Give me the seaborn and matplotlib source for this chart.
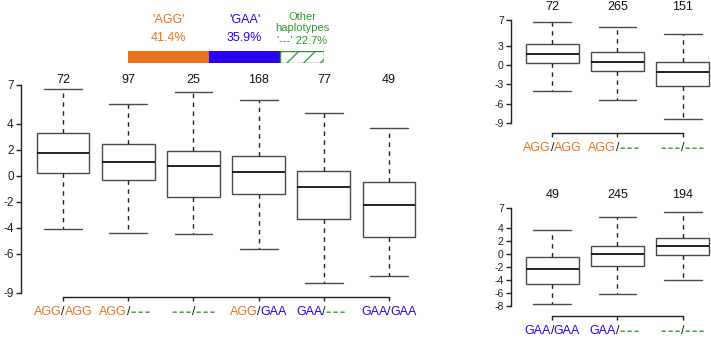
import numpy as np
import pandas as pd
import matplotlib
matplotlib.use('Agg')
import matplotlib.pyplot as plt
import matplotlib.transforms as mtransforms
import seaborn as sns

sns.set_theme(style="ticks")
plt.rcParams['font.family'] = ['Liberation Sans', 'DejaVu Sans']
plt.rcParams['hatch.linewidth'] = 0.9

ORANGE = '#E8731F'
BLUE = '#2B00F7'
GREEN = '#2F962F'
DASH_GREEN = '#42A842'
TOKEN_COLORS = {'AGG': ORANGE, 'GAA': BLUE, '---': DASH_GREEN}
DASHES = '-\u200a-\u200a-'   # the "other haplotype" symbol, a bit airier

# haplotype frequencies (top bar)
hap_labels = ["'AGG'", "'GAA'"]
hap_freq = [41.4, 35.9, 22.7]

# five-number summaries: min, q1, median, q3, max
main_groups = ['AGG/AGG', 'AGG/---', '---/---', 'AGG/GAA', 'GAA/---', 'GAA/GAA']
main_counts = [72, 97, 25, 168, 77, 49]
main_stats = [
    [-4.08, 0.21, 1.72, 3.31, 6.67],
    [-4.41, -0.33, 1.03, 2.41, 5.54],
    [-4.48, -1.62, 0.75, 1.87, 6.41],
    [-5.66, -1.41, 0.31, 1.54, 5.82],
    [-8.28, -3.35, -0.85, 0.34, 4.82],
    [-7.72, -4.69, -2.28, -0.46, 3.67],
]
main_yticks = [7, 4, 2, 0, -2, -4, -6, -9]

agg_groups = ['AGG/AGG', 'AGG/---', '---/---']
agg_counts = [72, 265, 151]
agg_stats = [
    [-4.04, 0.26, 1.76, 3.31, 6.72],
    [-5.43, -0.98, 0.52, 1.97, 5.90],
    [-8.34, -3.31, -1.13, 0.47, 4.86],
]
agg_yticks = [7, 3, 0, -3, -6, -9]

gaa_groups = ['GAA/GAA', 'GAA/---', '---/---']
gaa_counts = [49, 245, 194]
gaa_stats = [
    [-7.74, -4.70, -2.30, -0.46, 3.65],
    [-6.25, -1.85, 0.00, 1.13, 5.60],
    [-4.05, -0.25, 1.13, 2.47, 6.42],
]
gaa_yticks = [7, 4, 2, 0, -2, -4, -6, -8]


def to_long(groups, stats):
    rows = []
    for g, s in zip(groups, stats):
        for v in s:
            rows.append({'group': g, 'value': v})
    return pd.DataFrame(rows)


def draw_panel(ax, groups, counts, stats, yticks, ylim, xlim, count_y, tick_fs):
    df = to_long(groups, stats)
    sns.boxplot(data=df, x='group', y='value', order=groups, ax=ax,
                whis=(0, 100), width=0.81, color='white', linecolor='#4a4a4a',
                linewidth=1.0,
                whiskerprops={'linestyle': (0, (3.2, 3.2)), 'color': '#222222'},
                medianprops={'color': '#111111', 'linewidth': 1.3})
    # widen the whisker caps a little, like in the original
    for line in ax.lines:
        xd = np.asarray(line.get_xdata(), dtype=float)
        yd = np.asarray(line.get_ydata(), dtype=float)
        if len(xd) == 2 and yd[0] == yd[1] and 0 < abs(xd[1] - xd[0]) < 0.6:
            c = xd.mean()
            line.set_xdata([c - 0.29, c + 0.29])
    ax.set_xlim(*xlim)
    ax.set_ylim(*ylim)
    ax.set_yticks(yticks)
    ax.set_yticklabels([str(t) for t in yticks], fontsize=tick_fs)
    ax.set_xticks(range(len(groups)))
    ax.set_xticklabels([])
    ax.set_xlabel('')
    ax.set_ylabel('')
    sns.despine(ax=ax)
    ax.spines['left'].set_bounds(min(yticks), max(yticks))
    ax.spines['bottom'].set_bounds(0, len(groups) - 1)
    for sp in ['left', 'bottom']:
        ax.spines[sp].set_linewidth(1.0)
        ax.spines[sp].set_color('#222222')
    ax.tick_params(axis='y', length=3.5, width=1.0, pad=1.5, colors='#222222')
    ax.tick_params(axis='x', length=3, width=1.0, colors='#222222')
    ax.grid(False)

    for i, n in enumerate(counts):
        ax.text(i, count_y, str(n), ha='center', va='center', fontsize=9,
                color='#111111', clip_on=False)

    # two-coloured genotype labels, slash on the tick
    for i, g in enumerate(groups):
        left, right = g.split('/')
        kw = dict(xycoords=('data', 'axes fraction'), textcoords='offset points',
                  va='center', annotation_clip=False)
        ax.annotate('/', xy=(i, 0), xytext=(0, -11.3), ha='center',
                    color='#111111', fontsize=9, **kw)
        if left == '---':
            ax.annotate(DASHES, xy=(i, 0), xytext=(-1.8, -11.0), ha='right',
                        color=DASH_GREEN, fontsize=12, fontweight='bold', **kw)
        else:
            ax.annotate(left, xy=(i, 0), xytext=(-1.1, -11.3), ha='right',
                        color=TOKEN_COLORS[left], fontsize=9, **kw)
        if right == '---':
            ax.annotate(DASHES, xy=(i, 0), xytext=(1.8, -11.0), ha='left',
                        color=DASH_GREEN, fontsize=12, fontweight='bold', **kw)
        else:
            ax.annotate(right, xy=(i, 0), xytext=(1.1, -11.3), ha='left',
                        color=TOKEN_COLORS[right], fontsize=9, **kw)


fig = plt.figure(figsize=(7.11, 3.39), dpi=100)

ax_main = fig.add_axes([0.0291, 0.1248, 0.564, 0.6369])
draw_panel(ax_main, main_groups, main_counts, main_stats, main_yticks,
           ylim=(-9.31, 7.3), xlim=(-0.65, 5.5), count_y=7.36, tick_fs=8.5)

ax_agg = fig.add_axes([0.7183, 0.6086, 0.2813, 0.3384])
draw_panel(ax_agg, agg_groups, agg_counts, agg_stats, agg_yticks,
           ylim=(-10.51, 7.3), xlim=(-0.638, 2.43), count_y=9.05, tick_fs=7.5)

ax_gaa = fig.add_axes([0.7183, 0.0687, 0.2813, 0.323])
draw_panel(ax_gaa, gaa_groups, gaa_counts, gaa_stats, gaa_yticks,
           ylim=(-9.54, 7.3), xlim=(-0.638, 2.43), count_y=9.03, tick_fs=7.5)

# haplotype frequency bar
ax_bar = fig.add_axes([0.1805, 0.815, 0.2757, 0.0345])
lefts = np.concatenate([[0], np.cumsum(hap_freq)[:-1]])
bar_colors = [ORANGE, BLUE, 'white']
for k, (lft, w, c) in enumerate(zip(lefts, hap_freq, bar_colors)):
    if k < 2:
        ax_bar.barh(0, w, left=lft, height=1, color=c, edgecolor='none')
    else:
        ax_bar.barh(0, w, left=lft, height=1, color='white', edgecolor=GREEN,
                    hatch='//', linewidth=1.0)
ax_bar.set_xlim(0, 100)
ax_bar.set_ylim(-0.5, 0.5)
ax_bar.axis('off')

tr = mtransforms.blended_transform_factory(ax_bar.transData, fig.transFigure)
centers = lefts + np.array(hap_freq) / 2
for k, (lab, c) in enumerate(zip(hap_labels, [ORANGE, BLUE])):
    ax_bar.text(centers[k], 0.941, lab, transform=tr, ha='center', va='center',
                fontsize=9, color=c)
    ax_bar.text(centers[k], 0.888, f'{hap_freq[k]}%', transform=tr, ha='center',
                va='center', fontsize=9, color=c)
ax_bar.text(centers[2], 0.950, 'Other', transform=tr, ha='center', va='center',
            fontsize=8, color=GREEN)
ax_bar.text(centers[2], 0.917, 'haplotypes', transform=tr, ha='center',
            va='center', fontsize=8, color=GREEN)
ax_bar.text(centers[2], 0.880, f"'---' {hap_freq[2]}%", transform=tr,
            ha='center', va='center', fontsize=8, color=GREEN)

plt.savefig('out.png', dpi=100)
plt.close()
